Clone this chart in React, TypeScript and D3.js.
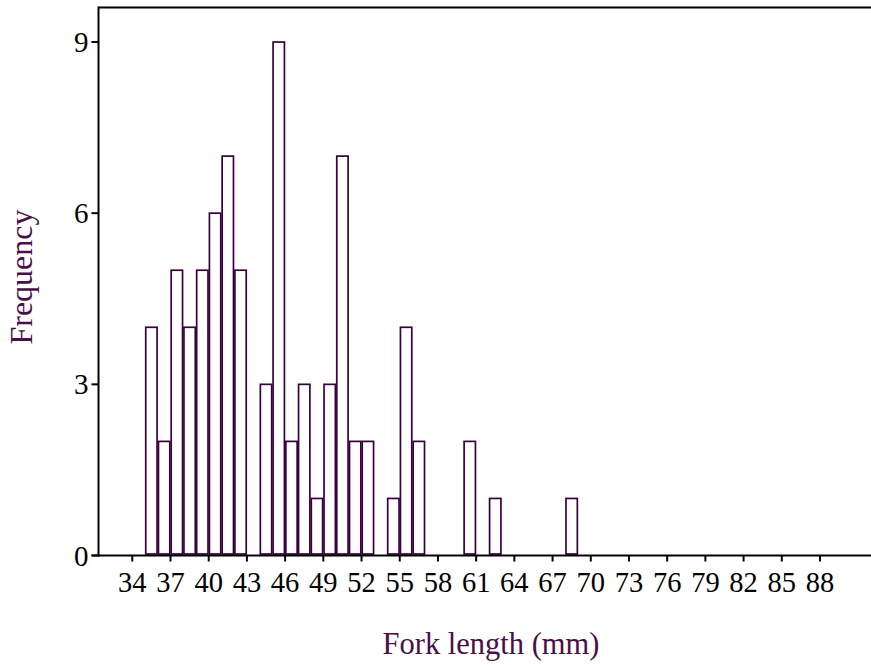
import React from "react";
import * as d3 from "d3";

const binStarts = [35, 36, 37, 38, 39, 40, 41, 42, 44, 45, 46, 47, 48, 49, 50, 51, 52, 54, 55, 56, 60, 62, 68];
const counts = [4, 2, 5, 4, 5, 6, 7, 5, 3, 9, 2, 3, 1, 3, 7, 2, 2, 1, 4, 2, 2, 1, 1];
const xTicks = [34, 37, 40, 43, 46, 49, 52, 55, 58, 61, 64, 67, 70, 73, 76, 79, 82, 85, 88];
const yTicks = [0, 3, 6, 9];
const xTitle = "Fork length (mm)";
const yTitle = "Frequency";

const W = 871;
const H = 665;
const left = 98.5;
const right = 871;
const top = 7.5;
const bottom = 555.5;

export default function App() {
  const x = d3.scaleLinear().domain([34, 88]).range([132.3, 820]);
  const y = d3.scaleLinear().domain([0, 9]).range([bottom, 42]);
  const barColor = "#3a003d";
  const titleColor = "#4a0f4a";
  const font = "'Liberation Serif', 'Times New Roman', serif";

  return (
    <svg width={W} height={H} style={{ position: "absolute", left: 0, top: 0, background: "#fff" }}>
      {binStarts.map((b, i) => {
        const x0 = x(b) + 0.7;
        const x1 = x(b + 1) - 0.7;
        const yt = y(counts[i]);
        const yb = y(0) - 1.5;
        return (
          <rect
            key={b}
            x={x0}
            y={yt}
            width={x1 - x0}
            height={yb - yt}
            fill="#fff"
            stroke={barColor}
            strokeWidth={1.7}
          />
        );
      })}
      <line x1={left} x2={right} y1={top} y2={top} stroke="#000" strokeWidth={2} />
      <line x1={left} x2={left} y1={top - 1} y2={bottom + 1} stroke="#000" strokeWidth={2} />
      <line x1={left - 7} x2={right} y1={bottom} y2={bottom} stroke="#000" strokeWidth={2} />
      {yTicks.map((t) => (
        <g key={t}>
          <line x1={left - 7} x2={left} y1={y(t)} y2={y(t)} stroke="#000" strokeWidth={2} />
          <text x={left - 10} y={y(t) + 10} textAnchor="end" fontFamily={font} fontSize={29} fill="#000">
            {t}
          </text>
        </g>
      ))}
      {xTicks.map((t) => (
        <g key={t}>
          <line x1={x(t)} x2={x(t)} y1={bottom} y2={bottom + 6} stroke="#000" strokeWidth={2} />
          <text x={x(t)} y={592} textAnchor="middle" fontFamily={font} fontSize={28.5} fill="#000">
            {t}
          </text>
        </g>
      ))}
      <text x={491} y={654} textAnchor="middle" fontFamily={font} fontSize={30.5} fill={titleColor}>
        {xTitle}
      </text>
      <text
        transform={`translate(32, 277) rotate(-90)`}
        textAnchor="middle"
        fontFamily={font}
        fontSize={32}
        fill={titleColor}
      >
        {yTitle}
      </text>
    </svg>
  );
}
